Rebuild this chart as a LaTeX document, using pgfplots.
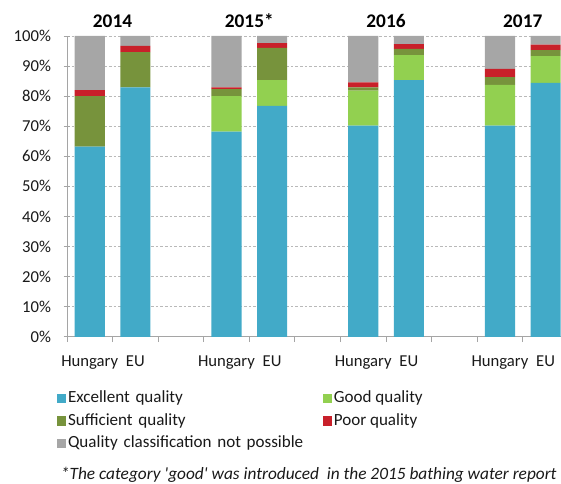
\documentclass[border=0pt]{standalone}
\usepackage{pgfplots}
\pgfplotsset{compat=1.18}
\usepackage{pgfplotstable}
\usepackage{fontspec}
\setmainfont{Carlito}[Ligatures=TeXOff]
\definecolor{cexc}{RGB}{66,170,200}
\definecolor{cgood}{RGB}{146,208,80}
\definecolor{csuff}{RGB}{119,147,60}
\definecolor{cpoor}{RGB}{200,32,42}
\definecolor{cnp}{RGB}{166,166,166}
\definecolor{caxis}{RGB}{165,165,165}
\pgfplotstableread{
x exc good suff poor np
0 63.2 0 16.8 2.0 18.0
1 82.9 0 11.7 2.1 3.3
3 68.2 11.8 2.3 0.6 17.1
4 76.8 8.5 10.7 1.6 2.4
6 70.2 11.6 1.1 1.7 15.4
7 85.3 8.3 2.1 1.6 2.7
9 70.2 13.5 2.6 2.8 10.9
10 84.4 8.9 2.0 1.8 2.9
}\data
\begin{document}
\begin{tikzpicture}
\begin{axis}[
  scale only axis,
  width=370.5pt, height=225.75pt,
  clip mode=individual,
  ybar stacked, bar width=0.66, bar shift=0pt,
  xmin=-0.5, xmax=10.33, ymin=0, ymax=100,
  axis lines*=left,
  axis line style={caxis, line width=0.6pt},
  xtick={0,1,3,4,6,7,9,10},
  xticklabels={Hungary,EU,Hungary,EU,Hungary,EU,Hungary,EU},
  minor xtick={-0.5,0.5,...,10.5},
  major x tick style={draw=none},
  minor x tick style={caxis, line width=0.6pt, yshift=-2pt},
  minor tick length=4pt,
  ytick={0,10,...,100},
  yticklabel={\pgfmathprintnumber{\tick}\%},
  major tick length=5pt,
  tick align=center,
  ytick style={caxis, line width=0.6pt},
  ymajorgrids,
  major grid style={gray!55, line width=0.5pt, dash pattern=on 2pt off 1.5pt},
  /pgf/number format/assume math mode=true,
  tick label style={font=\fontsize{12.5}{15}\selectfont, text=black!90},
  yticklabel style={xshift=-6pt},
  xticklabel style={yshift=-8pt},
  legend columns=2,
  legend image code/.code={\fill[#1] (0pt,-3.5pt) rectangle (7pt,3.5pt);},
  legend style={at={(axis description cs:0,0)}, anchor=north west,
    xshift=-7.7pt, yshift=-40.25pt, draw=none, fill=none,
    inner sep=0pt, outer sep=0pt, row sep=5pt,
    /tikz/every odd column/.style={column sep=1.5pt},
    /tikz/column 2/.style={text width=191pt, align=left},
    nodes={inner sep=0pt, anchor=west, text height=9pt, text depth=3pt,
      font=\fontsize{12.8}{15}\selectfont, text=black!90}},
]
\addplot[fill=cexc, draw=none] table[x=x, y=exc] {\data};
\addlegendentry{Excellent quality}
\addplot[fill=cgood, draw=none] table[x=x, y=good] {\data};
\addlegendentry{Good quality}
\addplot[fill=csuff, draw=none] table[x=x, y=suff] {\data};
\addlegendentry{Sufficient quality}
\addplot[fill=cpoor, draw=none] table[x=x, y=poor] {\data};
\addlegendentry{Poor quality}
\addplot[fill=cnp, draw=none] table[x=x, y=np] {\data};
\addlegendentry{Quality classification not possible}
\node[anchor=base, font=\fontsize{14.5}{17}\selectfont\bfseries, yshift=6.5pt] at (axis cs:0.5,100) {2014};
\node[anchor=base, font=\fontsize{14.5}{17}\selectfont\bfseries, yshift=6.5pt] at (axis cs:3.5,100) {2015*};
\node[anchor=base, font=\fontsize{14.5}{17}\selectfont\bfseries, yshift=6.5pt] at (axis cs:6.5,100) {2016};
\node[anchor=base, font=\fontsize{14.5}{17}\selectfont\bfseries, yshift=6.5pt] at (axis cs:9.5,100) {2017};
\node[anchor=base west, inner sep=0pt, font=\fontsize{13}{15}\selectfont\itshape, text=black!90, xshift=-4.7pt, yshift=-107.3pt] at (axis description cs:0,0) {*The category 'good' was introduced\ \ in the 2015 bathing water report};
\end{axis}
\path (current axis.south west) ++(-50.25pt,-110.25pt) coordinate (bl);
\path (current axis.north east) ++(0pt,27pt) coordinate (tr);
\path (bl) rectangle (tr);
\end{tikzpicture}
\end{document}
